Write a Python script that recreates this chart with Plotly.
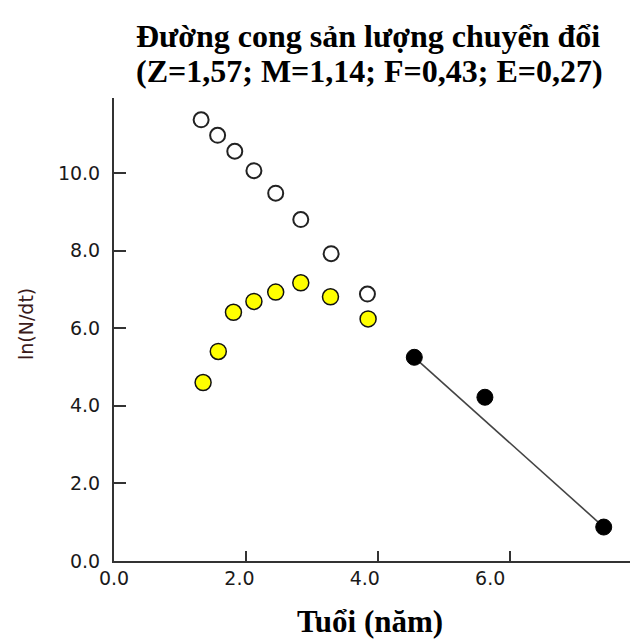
import plotly.graph_objects as go

# Data
age_open = [1.32, 1.57, 1.83, 2.12, 2.45, 2.83, 3.29, 3.84]
ln_open = [11.37, 10.97, 10.56, 10.06, 9.48, 8.80, 7.92, 6.88]

age_yellow = [1.35, 1.58, 1.81, 2.12, 2.45, 2.83, 3.28, 3.85]
ln_yellow = [4.60, 5.40, 6.41, 6.69, 6.93, 7.17, 6.81, 6.24]

age_black = [4.55, 5.62, 7.42]
ln_black = [5.25, 4.22, 0.875]

x_ticks = [0, 2, 4, 6]
y_ticks = [0, 2, 4, 6, 8, 10]

title_line1 = "Đường cong sản lượng chuyển đổi"
title_line2 = "(Z=1,57; M=1,14; F=0,43; E=0,27)"
x_title = "Tuổi (năm)"
y_title = "ln(N/dt)"

# page has an 8px body margin; work in target pixel coords and shift
OFF = 8
TW, TH = 638, 641
W, H = TW - OFF, TH - OFF
PL, PT, PB = 114, 98, 561   # plot area edges in target pixels
ML, MR, MT, MB = PL - OFF, 0, PT - OFF, TH - PB

plot_w = TW - PL
plot_h = PB - PT

fig = go.Figure()

# Regression line through the selected (black) points
fig.add_trace(go.Scatter(
    x=[age_black[0], age_black[-1]], y=[ln_black[0], ln_black[-1]],
    mode="lines", line=dict(color="#444444", width=1.6),
    hoverinfo="skip", showlegend=False))

fig.add_trace(go.Scatter(
    x=age_open, y=ln_open, mode="markers",
    marker=dict(symbol="circle", size=15, color="white",
                line=dict(color="#222222", width=2)),
    showlegend=False))

fig.add_trace(go.Scatter(
    x=age_yellow, y=ln_yellow, mode="markers",
    marker=dict(symbol="circle", size=16, color="#FFFF00",
                line=dict(color="#111111", width=1.5)),
    showlegend=False))

fig.add_trace(go.Scatter(
    x=age_black, y=ln_black, mode="markers",
    marker=dict(symbol="circle", size=16, color="#000000",
                line=dict(color="#000000", width=1)),
    showlegend=False))

# invisible helper trace so the label-only overlay axis is drawn
fig.add_trace(go.Scatter(
    x=[x_ticks[0]], y=[y_ticks[0]], xaxis="x2", mode="markers",
    marker=dict(opacity=0), hoverinfo="skip", showlegend=False))

tick_font = dict(family="DejaVu Sans, sans-serif", size=19, color="#1a1a1a")

fig.update_layout(
    xaxis=dict(
        range=[0, plot_w / 66.0],
        tickvals=x_ticks, showticklabels=False,
        ticks="inside", ticklen=10, tickwidth=2, tickcolor="#333333",
        showline=True, linewidth=2, linecolor="#333333",
        showgrid=False, zeroline=False),
    xaxis2=dict(
        overlaying="x", side="bottom", anchor="y",
        range=[0, plot_w / 62.7],
        tickvals=x_ticks, tickformat=".1f", ticks="",
        showline=False, showgrid=False, zeroline=False,
        tickfont=tick_font, ticklabelstandoff=4),
    yaxis=dict(
        range=[0, plot_h / 38.8],
        tickvals=y_ticks, tickformat=".1f",
        ticks="inside", ticklen=12, tickwidth=2, tickcolor="#333333",
        showline=True, linewidth=2, linecolor="#333333",
        showgrid=False, zeroline=False,
        tickfont=tick_font, ticklabelstandoff=8),
)

serif = "Liberation Serif, Times New Roman, serif"

def px_to_paper(px, py):
    return (px - PL) / plot_w, (PB - py) / plot_h

annos = []
for text, (px, py), size in [
    (title_line1, (368, 36), 32),
    (title_line2, (369, 71), 32),
    (x_title, (370, 621), 31),
]:
    xx, yy = px_to_paper(px, py)
    annos.append(dict(text="<b>" + text + "</b>", x=xx, y=yy, xref="paper", yref="paper",
                      xanchor="center", yanchor="middle", showarrow=False,
                      font=dict(family=serif, size=size, color="black")))

xx, yy = px_to_paper(26, 324)
annos.append(dict(text=y_title, x=xx, y=yy, xref="paper", yref="paper",
                  xanchor="center", yanchor="middle", showarrow=False, textangle=-90,
                  font=dict(family="DejaVu Sans, sans-serif", size=19, color="#3a1a1a")))

fig.update_layout(
    width=W, height=H,
    margin=dict(l=ML, r=MR, t=MT, b=MB, autoexpand=False),
    paper_bgcolor="white", plot_bgcolor="white",
    annotations=annos, showlegend=False)

fig.write_html("out.html")
